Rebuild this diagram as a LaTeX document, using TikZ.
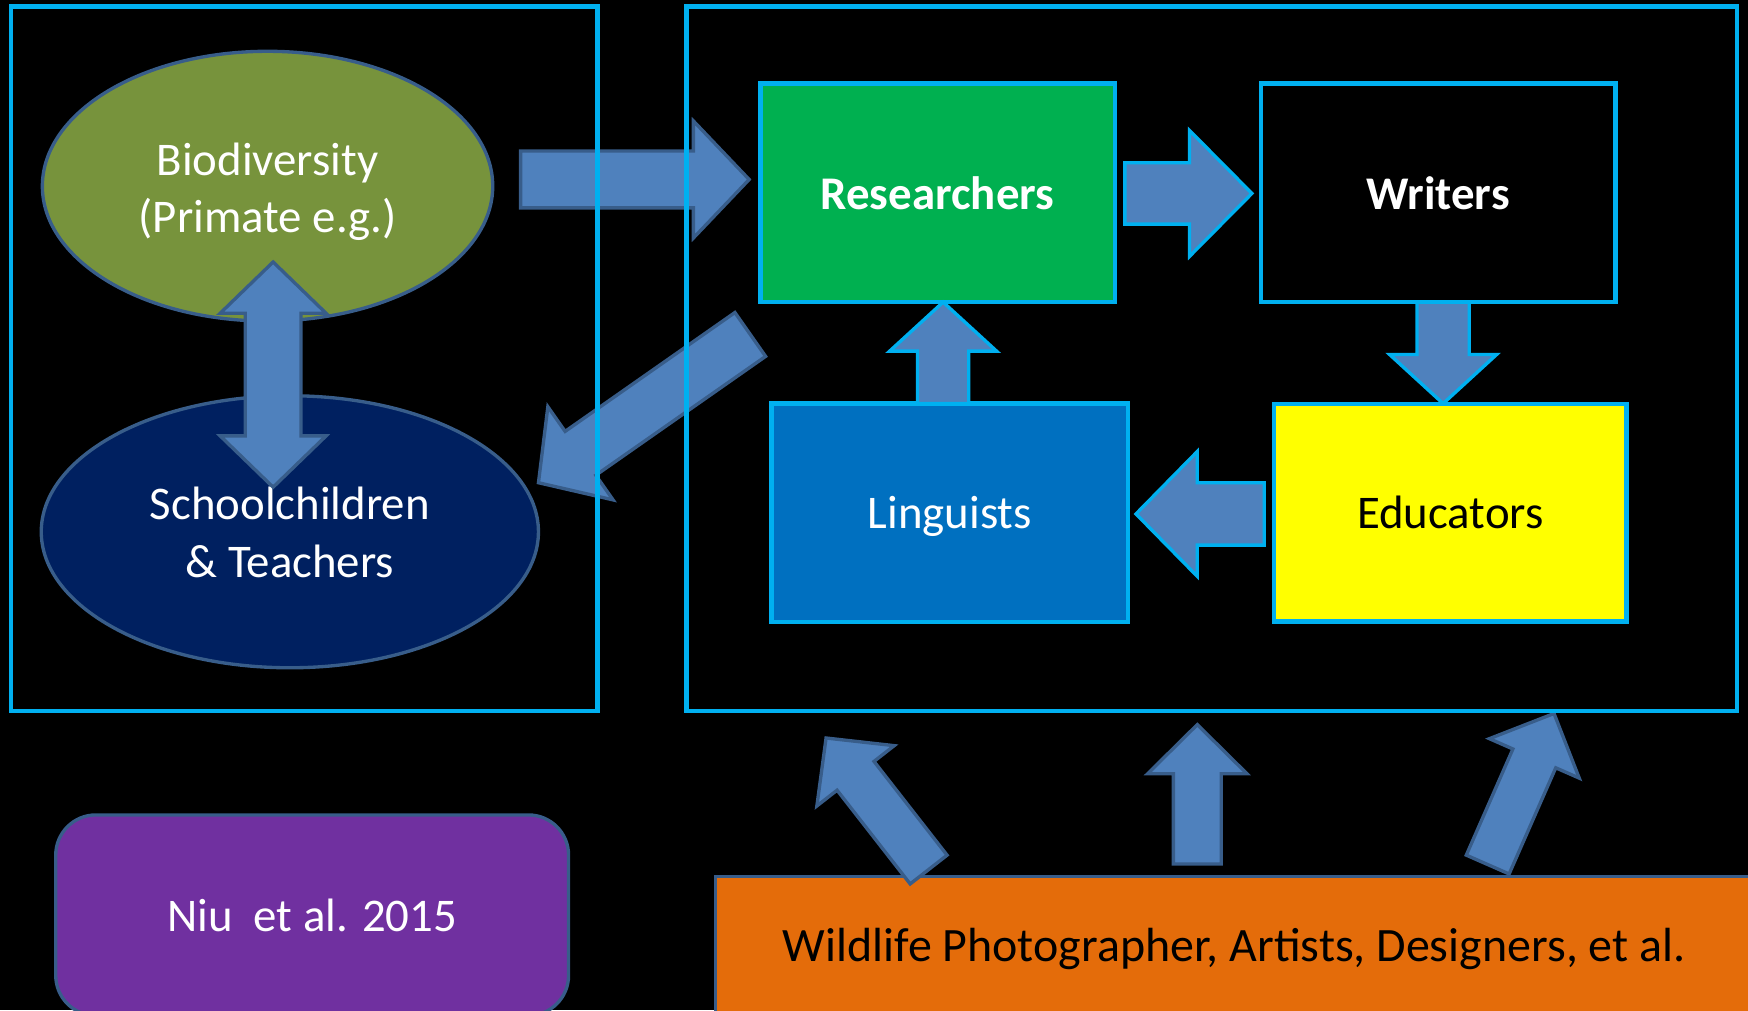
\documentclass[tikz,border=0pt]{standalone}
\usepackage{fontspec}
\setmainfont{Carlito}
\usetikzlibrary{calc,shapes.geometric}
\definecolor{framecyan}{HTML}{00B0F0}
\definecolor{arrfill}{HTML}{4F81BD}
\definecolor{darkline}{HTML}{385D8A}
\definecolor{resgreen}{HTML}{00B050}
\definecolor{linblue}{HTML}{0070C0}
\definecolor{eduyellow}{HTML}{FFFF00}
\definecolor{biogreen}{HTML}{77933C}
\definecolor{schnavy}{HTML}{002060}
\definecolor{niupurple}{HTML}{7030A0}
\definecolor{wildorange}{HTML}{E46C0A}
\newcommand\blockarr[6]{%
  \coordinate (hb) at ($(#3)!#6pt!(#2)$);
  \draw[#1] ($(#2)!#4pt!90:(#3)$) -- ($(hb)!#4pt!90:(#3)$) -- ($(hb)!#5pt!90:(#3)$) -- (#3)
    -- ($(hb)!#5pt!-90:(#3)$) -- ($(hb)!#4pt!-90:(#3)$) -- ($(#2)!#4pt!-90:(#3)$) -- cycle;
}
\newcommand\dblarr[6]{%
  \coordinate (ha) at ($(#2)!#6pt!(#3)$);
  \coordinate (hb) at ($(#3)!#6pt!(#2)$);
  \draw[#1] (#2) -- ($(ha)!#5pt!90:(#3)$) -- ($(ha)!#4pt!90:(#3)$) -- ($(hb)!#4pt!90:(#3)$)
    -- ($(hb)!#5pt!90:(#3)$) -- (#3) -- ($(hb)!#5pt!-90:(#3)$) -- ($(hb)!#4pt!-90:(#3)$)
    -- ($(ha)!#4pt!-90:(#3)$) -- ($(ha)!#5pt!-90:(#3)$) -- cycle;
}
\begin{document}
\begin{tikzpicture}[x=1pt,y=-1pt,
  txt/.style={font=\fontsize{42}{52}\selectfont, align=center},
  ell/.style={ellipse, draw=darkline, line width=3pt, inner sep=0pt},
  box/.style={rectangle, draw=framecyan, line width=4pt, inner sep=0pt, txt, text height=29pt, text depth=0pt},
  frame/.style={draw=framecyan, line width=4pt},
  arrdark/.style={fill=arrfill, draw=darkline, line width=3pt, line join=miter},
  arrcyan/.style={fill=arrfill, draw=framecyan, line width=3pt, line join=miter}]
\clip (0,0) rectangle (1568,906);
\fill[black] (0,0) rectangle (1568,906);
% ellipses
\node[ell, fill=biogreen, minimum width=404pt, minimum height=242pt] (bio) at (240,167) {};
\node[txt, text=white] (biotxt) at (240,172) {Biodiversity\\(Primate e.g.)};
\node[ell, fill=schnavy, minimum width=446pt, minimum height=244pt] (sch) at (260,477) {};
\node[txt, text=white] (schtxt) at (260,478) {Schoolchildren\\\& Teachers};
% bottom boxes
\node[rectangle, rounded corners=36pt, draw=darkline, line width=3pt, fill=niupurple, txt, text=white,
  minimum width=460pt, minimum height=180pt, inner sep=0pt] (niu) at (280,821) {Niu\ \ et al. 2015};
\node[rectangle, draw=darkline, line width=3pt, fill=wildorange,
  minimum width=934pt, minimum height=132pt, inner sep=0pt] (wild) at (1109,852) {};
\node[font=\fontsize{43}{52}\selectfont, text=black] (wildtxt) at (1107,851) {Wildlife Photographer, Artists, Designers, et al.};
% inner boxes
\node[box, fill=resgreen, text=white, font=\fontsize{42}{52}\selectfont\bfseries, minimum width=318pt, minimum height=196pt] (res) at (841,173) {Researchers};
\node[box, fill=black, text=white, font=\fontsize{42}{52}\selectfont\bfseries, minimum width=318pt, minimum height=196pt] (wri) at (1290,173) {Writers};
\node[box, fill=linblue, text=white, minimum width=320pt, minimum height=196pt] (lin) at (852,460) {Linguists};
\node[box, fill=eduyellow, text=black, minimum width=316pt, minimum height=195pt] (edu) at (1301,460) {Educators};
% connector end points
\coordinate (bioout) at (467,161);
\coordinate (resin) at (672,161);
\coordinate (biobot) at (245,235);
\coordinate (schtop) at (245,437);
\coordinate (resout) at (673,300);
\coordinate (schin) at (483,433);
\coordinate (reswri1) at (1009,173.5);
\coordinate (reswri2) at (1123,173.5);
\coordinate (wriedu1) at (1294.5,271);
\coordinate (wriedu2) at (1294.5,362);
\coordinate (linres1) at (846,362);
\coordinate (linres2) at (846,271);
\coordinate (edulin1) at (1134,461);
\coordinate (edulin2) at (1019,461);
\coordinate (wildA) at (833,780);
\coordinate (boxA) at (741,662);
\coordinate (wildB) at (1074,775);
\coordinate (boxB) at (1074,650);
\coordinate (wildC) at (1334.5,775.5);
\coordinate (boxC) at (1394,640);
% arrows
\blockarr{arrdark}{bioout}{resin}{25.5}{52.5}{50}
\dblarr{arrdark}{biobot}{schtop}{25}{47.5}{46}
\blockarr{arrdark}{resout}{schin}{24}{51}{46}
\blockarr{arrcyan}{reswri1}{reswri2}{27.5}{56.5}{56}
\blockarr{arrcyan}{wriedu1}{wriedu2}{23.5}{48}{44}
\blockarr{arrcyan}{linres1}{linres2}{23}{48}{44}
\blockarr{arrcyan}{edulin1}{edulin2}{28}{56}{55}
\blockarr{arrdark}{wildA}{boxA}{21}{44}{43}
\blockarr{arrdark}{wildB}{boxB}{21.5}{44.5}{44}
\blockarr{arrdark}{wildC}{boxC}{21}{44}{44}
% frames
\draw[frame] (10,6) rectangle (536,638);
\draw[frame] (616,6) rectangle (1558,638);
\end{tikzpicture}
\end{document}
